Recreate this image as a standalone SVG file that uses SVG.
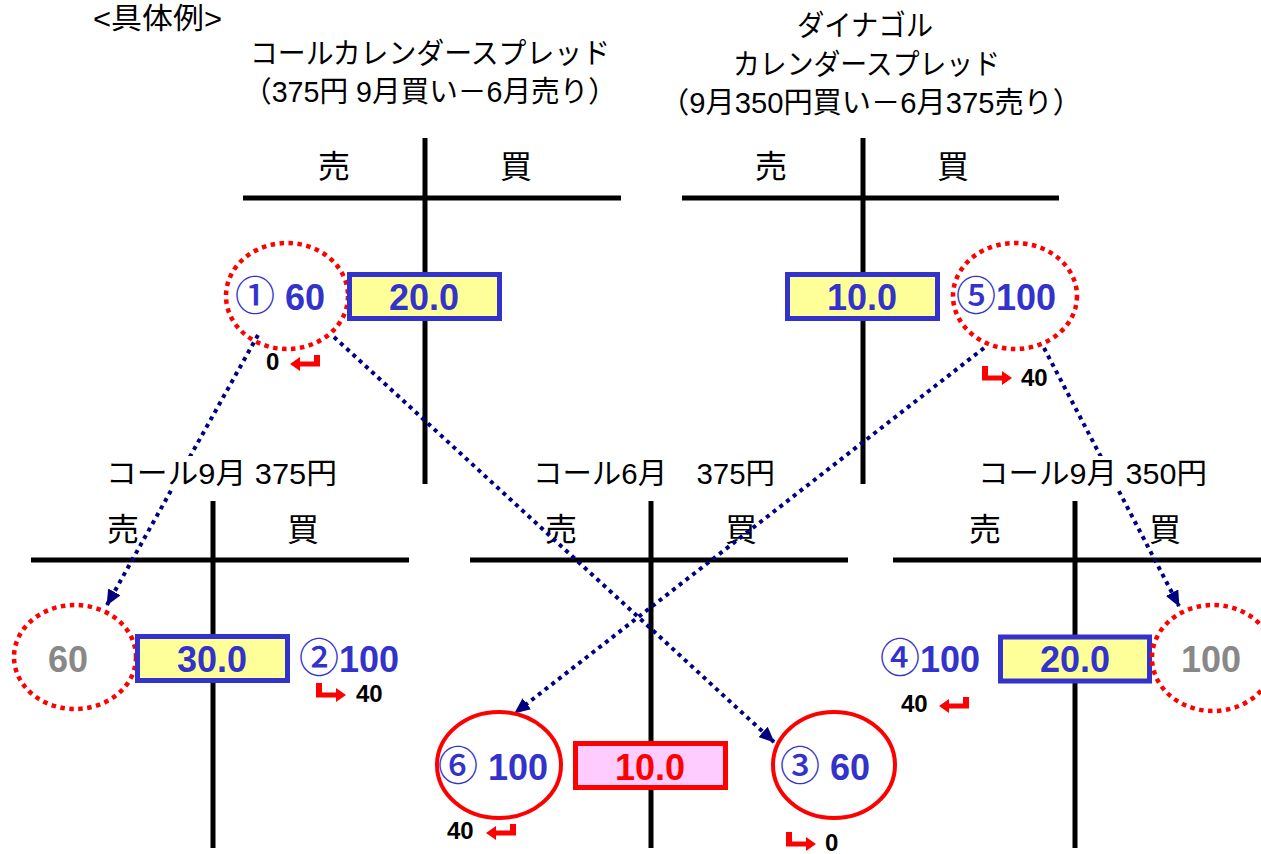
<svg xmlns="http://www.w3.org/2000/svg" width="1261" height="854" viewBox="0 0 1261 854">
<style>
text{font-family:"Liberation Sans","Noto Sans CJK JP",sans-serif}
.ttl{font-size:29px;fill:#000}
.tl{font-size:32px;fill:#000;text-anchor:middle}
.sub{font-size:29px;fill:#000}
.num{font-size:36px;font-weight:bold;fill:#3333CC}
.mid{text-anchor:middle}
.gray{fill:#888888}
.red{fill:#FF0000}
.circ{font-family:"Noto Sans CJK JP",sans-serif;font-weight:500;font-size:40px}
.small{font-size:24px;font-weight:bold;fill:#000}
.box{fill:#FFFF99;stroke:#3333CC;stroke-width:5}
.rbox{fill:#FFCCFF;stroke:#FF0000;stroke-width:5}
.dotc{fill:none;stroke:#FF0000;stroke-width:4.5;stroke-dasharray:4.5 4.5}
.solc{fill:none;stroke:#FF0000;stroke-width:4}
.conn{stroke:#000080;stroke-width:4;stroke-dasharray:4 4.5;fill:none}
.tline{stroke:#000;stroke-width:5;fill:none}
.arw{fill:#FF0000}
</style>
<defs>
<marker id="ah" markerUnits="userSpaceOnUse" markerWidth="16" markerHeight="14" refX="15" refY="7" orient="auto">
<path d="M0,0 L16,7 L0,14 Z" fill="#000080"/>
</marker>
<path id="retL" d="M0,9 L10,2 L10,6.5 L24,6.5 L24,0 L30,0 L30,11.5 L10,11.5 L10,16 Z"/>
<path id="retR" d="M30,12 L20,5 L20,9.5 L6,9.5 L6,0 L0,0 L0,14.5 L20,14.5 L20,19 Z"/>
</defs>

<!-- titles -->
<g id="title-main">
<text x="93" y="29" class="ttl" textLength="129" lengthAdjust="spacingAndGlyphs">&lt;具体例&gt;</text>
</g>
<g id="title-left">
<text x="250" y="64" class="ttl" textLength="360" lengthAdjust="spacingAndGlyphs">コールカレンダースプレッド</text>
<text x="243" y="102" class="ttl" textLength="374" lengthAdjust="spacingAndGlyphs">（375円 9月買い－6月売り）</text>
</g>
<g id="title-right">
<text x="797" y="36" class="ttl" textLength="136" lengthAdjust="spacingAndGlyphs">ダイナゴル</text>
<text x="733" y="75" class="ttl" textLength="267" lengthAdjust="spacingAndGlyphs">カレンダースプレッド</text>
<text x="660" y="113" class="ttl" textLength="422" lengthAdjust="spacingAndGlyphs">（9月350円買い－6月375売り）</text>
</g>

<!-- T accounts -->
<g id="t-top-left">
<line class="tline" x1="243" y1="198" x2="621" y2="198"/>
<line class="tline" x1="425" y1="138" x2="425" y2="484"/>
<text x="334" y="178" class="tl">売</text>
<text x="516" y="178" class="tl">買</text>
</g>
<g id="t-top-right">
<line class="tline" x1="682" y1="198" x2="1059" y2="198"/>
<line class="tline" x1="863" y1="138" x2="863" y2="484"/>
<text x="771" y="178" class="tl">売</text>
<text x="953" y="178" class="tl">買</text>
</g>
<g id="t-bottom-left">
<line class="tline" x1="31" y1="560" x2="409" y2="560"/>
<line class="tline" x1="213" y1="501" x2="213" y2="848"/>
<text x="123" y="541" class="tl">売</text>
<text x="303" y="541" class="tl">買</text>
</g>
<g id="t-bottom-mid">
<line class="tline" x1="470" y1="560" x2="848" y2="560"/>
<line class="tline" x1="651" y1="501" x2="651" y2="848"/>
<text x="561" y="541" class="tl">売</text>
<text x="741" y="541" class="tl">買</text>
</g>
<g id="t-bottom-right">
<line class="tline" x1="893" y1="560" x2="1261" y2="560"/>
<line class="tline" x1="1075" y1="501" x2="1075" y2="848"/>
<text x="985" y="541" class="tl">売</text>
<text x="1165" y="541" class="tl">買</text>
</g>

<!-- connectors -->
<g id="connectors">
<path class="conn" d="M258,335 L107,605" marker-end="url(#ah)"/>
<path class="conn" d="M334,337 L774,742" marker-end="url(#ah)"/>
<path class="conn" d="M984,348 L515,713" marker-end="url(#ah)"/>
<path class="conn" d="M1044,348 L1179,606" marker-end="url(#ah)"/>
</g>

<!-- sub titles with white background -->
<g id="label-call-sep-375">
<rect x="103" y="456" width="238" height="32" fill="#FFFFFF"/>
<text x="106" y="484" class="sub" textLength="231" lengthAdjust="spacingAndGlyphs">コール9月 375円</text>
</g>
<g id="label-call-jun-375">
<rect x="529" y="456" width="250" height="32" fill="#FFFFFF"/>
<text x="533" y="484" class="sub" textLength="242" lengthAdjust="spacingAndGlyphs">コール6月　375円</text>
</g>
<g id="label-call-sep-350">
<rect x="974" y="456" width="238" height="32" fill="#FFFFFF"/>
<text x="978" y="484" class="sub" textLength="229" lengthAdjust="spacingAndGlyphs">コール9月 350円</text>
</g>

<!-- top-left nodes -->
<g id="node-1">
<ellipse class="dotc" cx="287" cy="296" rx="61" ry="53"/>
<text x="235" y="310" class="num"><tspan class="circ">①</tspan> 60</text>
<text x="266" y="370" class="small">0</text>
<use href="#retL" class="arw" x="290" y="355"/>
</g>
<g id="box-20-top">
<rect class="box" x="349.5" y="274.5" width="150" height="44"/>
<text x="424" y="310" class="num mid">20.0</text>
</g>

<!-- top-right nodes -->
<g id="box-10-top">
<rect class="box" x="787.5" y="274.5" width="150" height="44"/>
<text x="862" y="310" class="num mid">10.0</text>
</g>
<g id="node-5">
<ellipse class="dotc" cx="1015" cy="296" rx="62" ry="53"/>
<text x="956" y="310" class="num"><tspan class="circ">⑤</tspan>100</text>
<use href="#retR" class="arw" x="982" y="366"/>
<text x="1021" y="386" class="small">40</text>
</g>

<!-- bottom-left nodes -->
<g id="node-60-gray">
<ellipse class="dotc" cx="75" cy="657" rx="61" ry="52"/>
<text x="68" y="672" class="num mid gray">60</text>
</g>
<g id="box-30">
<rect class="box" x="137.5" y="636.5" width="150" height="44"/>
<text x="212" y="672" class="num mid">30.0</text>
</g>
<g id="node-2">
<text x="299" y="672" class="num"><tspan class="circ">②</tspan>100</text>
<use href="#retR" class="arw" x="316" y="683"/>
<text x="356" y="702" class="small">40</text>
</g>

<!-- bottom-mid nodes -->
<g id="node-6">
<ellipse class="solc" cx="499" cy="765" rx="62" ry="53"/>
<text x="438" y="780" class="num"><tspan class="circ">⑥</tspan> 100</text>
<text x="447" y="839" class="small">40</text>
<use href="#retL" class="arw" x="486" y="824"/>
</g>
<g id="box-10-red">
<rect class="rbox" x="575.5" y="743.5" width="150" height="44"/>
<text x="650" y="780" class="num mid red">10.0</text>
</g>
<g id="node-3">
<ellipse class="solc" cx="834" cy="765" rx="61" ry="53"/>
<text x="780" y="780" class="num"><tspan class="circ">③</tspan> 60</text>
<use href="#retR" class="arw" x="786" y="832"/>
<text x="825" y="851" class="small">0</text>
</g>

<!-- bottom-right nodes -->
<g id="node-4">
<text x="880" y="672" class="num"><tspan class="circ">④</tspan>100</text>
<text x="901" y="712" class="small">40</text>
<use href="#retL" class="arw" x="939" y="697"/>
</g>
<g id="box-20-bottom">
<rect class="box" x="1000.5" y="637" width="149" height="44"/>
<text x="1075" y="672" class="num mid">20.0</text>
</g>
<g id="node-100-gray">
<ellipse class="dotc" cx="1213" cy="658" rx="61" ry="53"/>
<text x="1211" y="672" class="num mid gray">100</text>
</g>
</svg>
